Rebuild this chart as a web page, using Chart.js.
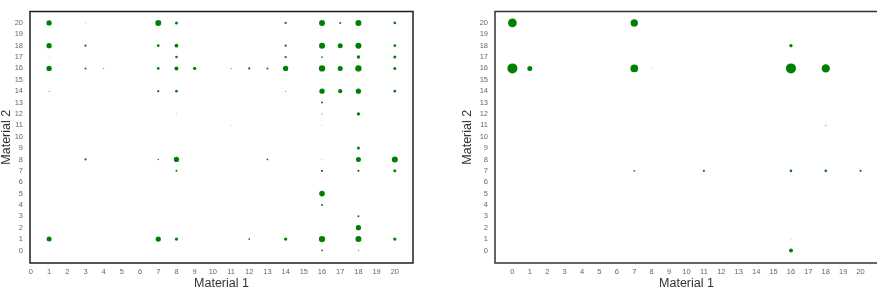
<!DOCTYPE html>
<html>
<head>
<meta charset="utf-8">
<script src="https://cdn.jsdelivr.net/npm/chart.js@4.4.1/dist/chart.umd.min.js"></script>
<style>
  html, body { margin: 0; padding: 0; background: #fff; overflow: hidden; }
  body { width: 877px; height: 292px; position: relative; }
  #leftChart { position: absolute; left: 0; top: 0; }
  #rightChart { position: absolute; left: 440px; top: 0; }
</style>
</head>
<body>
<canvas id="leftChart" width="430" height="292" style="width:430px;height:292px"></canvas>
<canvas id="rightChart" width="460" height="292" style="width:460px;height:292px"></canvas>
<script>
// ==================== データ ====================

// 目盛り
const xTicks = [0, 1, 2, 3, 4, 5, 6, 7, 8, 9, 10, 11, 12, 13, 14, 15, 16, 17, 18, 19, 20];
const yTicks = [0, 1, 2, 3, 4, 5, 6, 7, 8, 9, 10, 11, 12, 13, 14, 15, 16, 17, 18, 19, 20];

// 左のグラフ (Material 1, Material 2, 件数)
const leftX = [
  1, 3, 7, 8, 14, 16, 17, 18, 20,
  1, 3, 7, 8, 14, 16, 17, 18, 20,
  1, 8, 14, 16, 18, 20,
  1, 3, 4, 7, 8, 9, 11, 12, 13, 14, 16, 17, 18, 20,
  1, 7, 8, 14, 16, 17, 18, 20,
  16,
  8, 16, 18,
  11, 16,
  18,
  3, 7, 8, 13, 16, 18, 20,
  8, 16, 18, 20,
  16,
  16,
  18,
  18,
  1, 7, 8, 12, 14, 16, 18, 20,
  16, 18
];
const leftY = [
  20, 20, 20, 20, 20, 20, 20, 20, 20,
  18, 18, 18, 18, 18, 18, 18, 18, 18,
  17, 17, 17, 17, 17, 17,
  16, 16, 16, 16, 16, 16, 16, 16, 16, 16, 16, 16, 16, 16,
  14, 14, 14, 14, 14, 14, 14, 14,
  13,
  12, 12, 12,
  11, 11,
  9,
  8, 8, 8, 8, 8, 8, 8,
  7, 7, 7, 7,
  5,
  4,
  3,
  2,
  1, 1, 1, 1, 1, 1, 1, 1,
  0, 0
];
const leftCount = [
  28, 0.5, 36, 9, 5, 36, 4, 36, 7,
  28, 5, 7, 14, 5, 36, 25, 36, 7,
  0.5, 7, 5, 3, 11, 9,
  28, 4, 1, 7, 16, 11, 1, 5, 4, 28, 40, 25, 40, 9,
  1, 5, 7, 1, 28, 18, 28, 7,
  4,
  0.5, 1, 11,
  0.5, 0.5,
  9,
  5, 2, 28, 3, 0.5, 25, 36,
  4, 5, 5, 9,
  32,
  4,
  4,
  28,
  25, 28, 11, 3, 11, 40, 36, 11,
  3, 1
];

// 右のグラフ (Material 1, Material 2, 件数)
const rightX = [0, 7, 16, 0, 1, 7, 8, 16, 18, 18, 7, 11, 16, 18, 20, 16, 16];
const rightY = [20, 20, 18, 16, 16, 16, 16, 16, 16, 11, 7, 7, 7, 7, 7, 1, 0];
const rightCount = [76, 53, 11, 100, 25, 59, 0.5, 100, 69, 1, 3, 5, 7, 7, 5, 0.5, 16];

// ==================== 設定 ====================

const dotColor = '#008000';
const tickColor = '#666666';
const titleColor = '#333333';
const fontFamily = "'Liberation Sans', Arial, sans-serif";

// 枠線を描くプラグイン
function framePlugin(color) {
  return {
    id: 'frame',
    afterDraw(chart) {
      const { ctx, chartArea } = chart;
      ctx.save();
      ctx.strokeStyle = color;
      ctx.lineWidth = 1.5;
      ctx.strokeRect(chartArea.left, chartArea.top,
        chartArea.right - chartArea.left, chartArea.bottom - chartArea.top);
      ctx.restore();
    }
  };
}

function toPoints(xs, ys, counts) {
  return xs.map((x, i) => ({ x: x, y: ys[i], w: counts[i] }));
}

function makeScatter(canvasId, points, xMin, xMax, yWidth, padding, frameColor) {
  const ctx = document.getElementById(canvasId).getContext('2d');
  return new Chart(ctx, {
    type: 'scatter',
    data: {
      datasets: [{
        data: points,
        backgroundColor: dotColor,
        borderWidth: 0,
        pointRadius: c => Math.sqrt(c.raw.w) / 2,
        pointHoverRadius: c => Math.sqrt(c.raw.w) / 2
      }]
    },
    options: {
      responsive: false,
      animation: false,
      devicePixelRatio: 1,
      layout: { padding: padding },
      plugins: {
        legend: { display: false },
        tooltip: { enabled: false }
      },
      scales: {
        x: {
          type: 'linear',
          min: xMin,
          max: xMax,
          grid: { display: false, drawTicks: false },
          border: { display: false },
          afterBuildTicks: scale => { scale.ticks = xTicks.map(v => ({ value: v })); },
          afterFit: scale => { scale.height = 29; },
          ticks: {
            autoSkip: false,
            maxRotation: 0,
            padding: 4,
            color: tickColor,
            font: { family: fontFamily, size: 7.5 }
          },
          title: {
            display: true,
            text: 'Material 1',
            color: titleColor,
            padding: { top: 0, bottom: 2 },
            font: { family: fontFamily, size: 12.5, lineHeight: 1 }
          }
        },
        y: {
          type: 'linear',
          min: -1.1,
          max: 21,
          grid: { display: false, drawTicks: false },
          border: { display: false },
          afterBuildTicks: scale => { scale.ticks = yTicks.map(v => ({ value: v })); },
          afterFit: scale => { scale.width = yWidth; },
          ticks: {
            autoSkip: false,
            padding: 7,
            color: tickColor,
            font: { family: fontFamily, size: 7.5 }
          },
          title: {
            display: true,
            text: 'Material 2',
            color: titleColor,
            padding: { top: 0, bottom: 0 },
            font: { family: fontFamily, size: 12.5, lineHeight: 1 }
          }
        }
      }
    },
    plugins: [framePlugin(frameColor)]
  });
}

makeScatter('leftChart', toPoints(leftX, leftY, leftCount), -0.05, 21, 30,
  { left: 0, top: 6, right: 17, bottom: 0 }, '#1e1e1e');
makeScatter('rightChart', toPoints(rightX, rightY, rightCount), -1, 21, 34,
  { left: 21, top: 6, right: 22, bottom: 0 }, '#333333');
</script>
</body>
</html>
